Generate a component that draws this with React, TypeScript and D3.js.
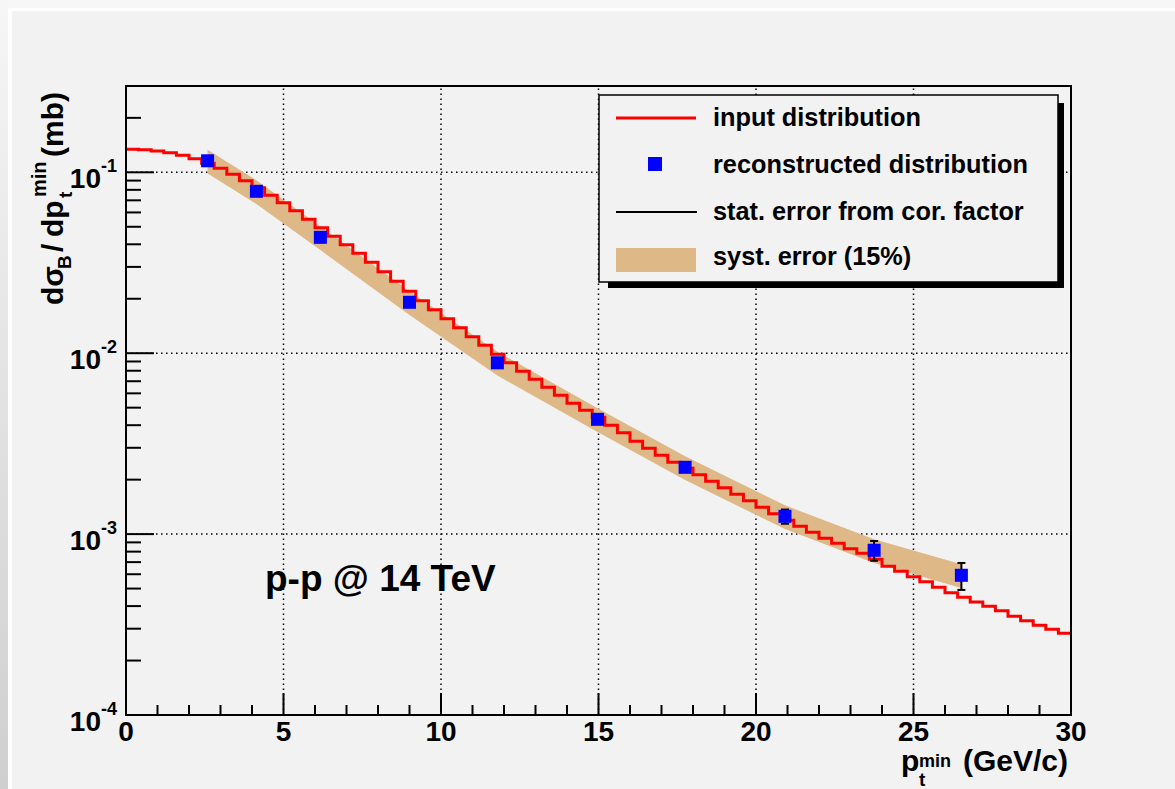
import React from 'react';
import * as d3 from 'd3';

const BIN_LOW = 0;
const BIN_WIDTH = 0.4;
// input distribution (histogram, 75 bins of 0.4 GeV/c), mb
const inputDist = [
  0.1340, 0.1331, 0.1311, 0.1282, 0.1242, 0.1187, 0.1122, 0.1052, 0.09748, 0.08975,
  0.08210, 0.07461, 0.06782, 0.06127, 0.05497, 0.04933, 0.04427, 0.03973, 0.03566, 0.03181,
  0.02818, 0.02497, 0.02199, 0.01949, 0.01738, 0.01550, 0.01381, 0.01232, 0.01106, 0.009860,
  0.008847, 0.007941, 0.007172, 0.006479, 0.005853, 0.005284, 0.004834, 0.004422, 0.003994, 0.003631,
  0.003258, 0.002980, 0.002726, 0.002493, 0.002310, 0.002127, 0.001958, 0.001802, 0.001660, 0.001528,
  0.001406, 0.001295, 0.001192, 0.001104, 0.001023, 0.000948, 0.000889, 0.000829, 0.000783, 0.000725,
  0.000664, 0.000623, 0.000581, 0.000545, 0.000508, 0.000474, 0.000447, 0.000422, 0.000399, 0.000377,
  0.000351, 0.000332, 0.000313, 0.000298, 0.000283,
];
// reconstructed distribution
const recoPt = [2.59, 4.14, 6.17, 9.0, 11.79, 14.97, 17.75, 20.92, 23.75, 26.52];
const recoVal = [0.1158, 0.07852, 0.04371, 0.01912, 0.008847, 0.004311, 0.00234, 0.001254, 0.000814, 0.000592];
const statRelErr = [0.02, 0.02, 0.02, 0.03, 0.03, 0.04, 0.05, 0.09, 0.125, 0.17];
const SYST_FRAC = 0.15;

const xTicks = [0, 5, 10, 15, 20, 25, 30];
const xMinorTicks = d3.range(0, 31, 1);
const yDecades = [-4, -3, -2, -1];
const legendLabels = [
  'input distribution',
  'reconstructed distribution',
  'stat. error from cor. factor',
  'syst. error (15%)',
];
const annotation = 'p-p @ 14 TeV';

const FONT = '"Liberation Sans", Arial, Helvetica, sans-serif';
const W = 1175;
const H = 789;
const L = 126, R = 1071, T = 86, B = 715;

export default function App() {
  const x = d3.scaleLinear().domain([0, 30]).range([L, R]);
  const y = d3.scaleLog().domain([1e-4, 0.3]).range([B, T]);

  const stepPts: [number, number][] = inputDist.map((v, i) => [BIN_LOW + i * BIN_WIDTH, v]);
  stepPts.push([BIN_LOW + inputDist.length * BIN_WIDTH, inputDist[inputDist.length - 1]]);
  const stepLine = d3
    .line<[number, number]>()
    .x((d) => x(d[0]))
    .y((d) => y(d[1]))
    .curve(d3.curveStepAfter);

  const upper: [number, number][] = recoPt.map((p, i) => [p, recoVal[i] * (1 + SYST_FRAC)]);
  const lower: [number, number][] = recoPt.map((p, i) => [p, recoVal[i] * (1 - SYST_FRAC)]).reverse() as [number, number][];
  const bandLine = d3
    .line<[number, number]>()
    .x((d) => x(d[0]))
    .y((d) => y(d[1]));
  const bandPath = bandLine([...upper, ...lower]) + 'Z';

  const yMinor: number[] = [];
  yDecades.forEach((k) => {
    for (let m = 2; m <= 9; m++) {
      const v = m * Math.pow(10, k);
      if (v <= 0.3) yMinor.push(v);
    }
  });

  const ms = 13;

  return (
    <svg
      width={W}
      height={H}
      style={{ position: 'absolute', left: 0, top: 0, fontFamily: FONT }}
    >
      <defs>
        <linearGradient id="leftStrip" x1="0" y1="0" x2="0" y2="1">
          <stop offset="0" stopColor="#f6f6f6" />
          <stop offset="1" stopColor="#cfcfcf" />
        </linearGradient>
      </defs>
      <rect x={0} y={0} width={W} height={H} fill="#f7f7f7" />
      <rect x={8} y={8} width={W - 8} height={H - 8} fill="#ffffff" />
      <rect x={0} y={0} width={8} height={H} fill="url(#leftStrip)" />
      <rect x={12} y={11} width={W - 12} height={H - 11} fill="#f2f2f2" />

      {/* grid */}
      <g stroke="#000" strokeWidth={1.5} strokeDasharray="1.5,3.5">
        {xTicks.slice(1, -1).map((t) => (
          <line key={'gx' + t} x1={x(t)} x2={x(t)} y1={B} y2={T} />
        ))}
        {yDecades.map((k) => (
          <line key={'gy' + k} x1={L} x2={R} y1={y(Math.pow(10, k))} y2={y(Math.pow(10, k))} />
        ))}
      </g>

      {/* syst band */}
      <path d={bandPath} fill="#deb887" stroke="none" />

      {/* input distribution */}
      <path d={stepLine(stepPts) || ''} fill="none" stroke="#ff0000" strokeWidth={3} />

      {/* stat error bars */}
      <g stroke="#000" strokeWidth={2}>
        {recoPt.map((p, i) => {
          const yu = y(recoVal[i] * (1 + statRelErr[i]));
          const yl = y(recoVal[i] * (1 - statRelErr[i]));
          const cx = x(p);
          return (
            <g key={'e' + i}>
              <line x1={cx} x2={cx} y1={yu} y2={yl} />
              <line x1={cx - 4} x2={cx + 4} y1={yu} y2={yu} />
              <line x1={cx - 4} x2={cx + 4} y1={yl} y2={yl} />
            </g>
          );
        })}
      </g>

      {/* reco points */}
      {recoPt.map((p, i) => (
        <rect key={'p' + i} x={x(p) - ms / 2} y={y(recoVal[i]) - ms / 2} width={ms} height={ms} fill="#0000ff" />
      ))}

      {/* frame */}
      <rect x={L} y={T} width={R - L} height={B - T} fill="none" stroke="#000" strokeWidth={2} />

      {/* ticks */}
      <g stroke="#000" strokeWidth={2}>
        {xMinorTicks.map((t) => (
          <line key={'xm' + t} x1={x(t)} x2={x(t)} y1={B} y2={B - (t % 5 === 0 ? 22 : 10)} />
        ))}
        {yDecades.map((k) => (
          <line key={'yM' + k} x1={L} x2={L + 28} y1={y(Math.pow(10, k))} y2={y(Math.pow(10, k))} />
        ))}
        {yMinor.map((v, i) => (
          <line key={'ym' + i} x1={L} x2={L + 15} y1={y(v)} y2={y(v)} />
        ))}
      </g>

      {/* x tick labels */}
      <g fontWeight="bold" fontSize={28} textAnchor="middle" fill="#000">
        {xTicks.map((t) => (
          <text key={'xl' + t} x={x(t)} y={741}>
            {t}
          </text>
        ))}
      </g>
      {/* y tick labels */}
      <g fontWeight="bold" fill="#000">
        {yDecades.map((k) => (
          <text key={'yl' + k} x={117} y={y(Math.pow(10, k)) + 16} textAnchor="end" fontSize={28}>
            10
            <tspan fontSize={18} dy={-16}>
              {String(k)}
            </tspan>
          </text>
        ))}
      </g>

      {/* x title */}
      <g fontWeight="bold" fill="#000">
        <text x={901} y={771} fontSize={30}>p</text>
        <text x={919} y={786} fontSize={19}>t</text>
        <text x={919} y={767} fontSize={18}>min</text>
        <text x={963} y={771} fontSize={30}>(GeV/c)</text>
      </g>

      {/* y title */}
      <g transform="translate(63,305) rotate(-90)" fontWeight="bold" fill="#000">
        <text x={0} y={0} fontSize={30}>dσ</text>
        <text x={36} y={8} fontSize={19}>B</text>
        <text x={53} y={0} fontSize={30}>/</text>
        <text x={68} y={0} fontSize={30}>dp</text>
        <text x={107} y={9} fontSize={19}>t</text>
        <text x={108} y={-17} fontSize={20}>min</text>
        <text x={148} y={0} fontSize={30}>(mb)</text>
      </g>

      {/* annotation */}
      <text x={265} y={591} fontSize={37} fontWeight="bold" fill="#000">
        {annotation}
      </text>

      {/* legend */}
      <rect x={608} y={103} width={456} height={185} fill="#000" />
      <rect x={599} y={95} width={459} height={187} fill="#f2f2f2" stroke="#000" strokeWidth={1.5} />
      <line x1={616} x2={696} y1={118} y2={118} stroke="#ff0000" strokeWidth={3} />
      <rect x={655 - 7} y={164 - 7} width={14} height={14} fill="#0000ff" />
      <line x1={616} x2={697} y1={212} y2={212} stroke="#000" strokeWidth={2} />
      <rect x={616} y={248} width={80} height={24} fill="#deb887" />
      <g fontWeight="bold" fontSize={25.3} fill="#000">
        {legendLabels.map((lab, i) => (
          <text key={'lg' + i} x={713} y={[126, 173, 220, 265][i]}>
            {lab}
          </text>
        ))}
      </g>
    </svg>
  );
}
